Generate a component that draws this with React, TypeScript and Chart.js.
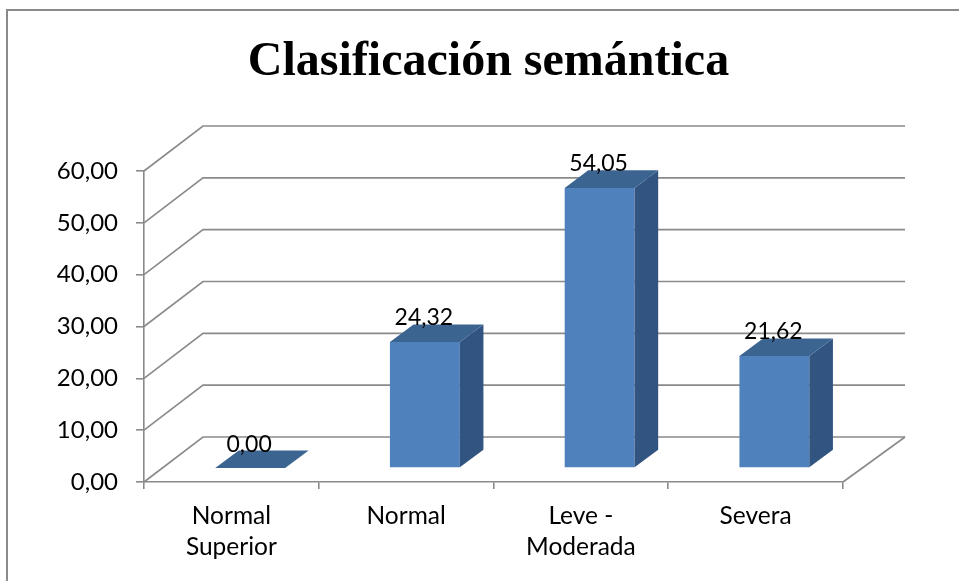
import React, { useEffect, useRef } from 'react';
import { Chart, registerables } from 'chart.js';

Chart.register(...registerables);

// ---------- data ----------
const categories: (string | string[])[] = [['Normal', 'Superior'], 'Normal', ['Leve -', 'Moderada'], 'Severa'];
const values: number[] = [0, 24.32, 54.05, 21.62];
const yMin = 0;
const yMax = 60;
const yStep = 10;
const chartTitle = 'Clasificación semántica';

// ---------- style ----------
const GRID = '#8a8a8a';
const FRONT = '#4F81BD';
const TOP = '#3C6491';
const SIDE = '#325480';
const DX_L = 59;
const DX_R = 62;
const DX = 60.5;
const DY = -45;
const F1 = 0.31; // depth fraction of bar front face
const F2 = 0.70; // depth fraction of bar back face
const LABEL_FONT = '23px Lato';

const fmt = (v: number) => Number(v).toFixed(2).replace('.', ',');

export default function App() {
  const ref = useRef<HTMLCanvasElement>(null);

  useEffect(() => {
    const canvas = ref.current;
    if (!canvas) return;

    const plugin = {
      id: 'excel3d',
      beforeDraw(chart: any) {
        const ctx = chart.ctx;
        ctx.save();
        // frame
        ctx.strokeStyle = GRID;
        ctx.lineWidth = 2;
        ctx.beginPath();
        ctx.moveTo(7, 581);
        ctx.lineTo(7, 10);
        ctx.lineTo(959, 10);
        ctx.stroke();
        // title
        ctx.fillStyle = '#000';
        ctx.font = 'bold 48px "Liberation Serif"';
        ctx.textAlign = 'center';
        ctx.textBaseline = 'alphabetic';
        ctx.fillText(chartTitle, 488.5, 75);
        ctx.restore();
      },
      beforeDatasetsDraw(chart: any) {
        const ctx = chart.ctx;
        const { left, right, bottom } = chart.chartArea;
        const yScale = chart.scales.y;
        ctx.save();
        ctx.strokeStyle = GRID;
        ctx.lineWidth = 1.6;
        ctx.lineCap = 'butt';
        ctx.lineJoin = 'miter';
        yScale.ticks.forEach((t: any) => {
          const yF = yScale.getPixelForValue(t.value);
          ctx.beginPath();
          ctx.moveTo(left, yF);
          ctx.lineTo(left + DX_L, yF + DY);
          ctx.lineTo(right + DX_R, yF + DY);
          ctx.stroke();
        });
        // floor right edge
        ctx.beginPath();
        ctx.moveTo(right, bottom);
        ctx.lineTo(right + DX_R, bottom + DY);
        ctx.stroke();
        ctx.restore();
        // shift bar fronts into depth
        ctx.save();
        ctx.translate(F1 * DX, F1 * DY);
      },
      afterDatasetsDraw(chart: any) {
        const ctx = chart.ctx;
        ctx.restore();
        const meta = chart.getDatasetMeta(0);
        const tx = F1 * DX;
        const ty = F1 * DY;
        const ddx = (F2 - F1) * DX;
        const ddy = (F2 - F1) * DY;
        ctx.save();
        meta.data.forEach((bar: any, i: number) => {
          const p = bar.getProps(['x', 'y', 'base', 'width'], true);
          const xl = p.x - p.width / 2 + tx;
          const xr = p.x + p.width / 2 + tx;
          const yT = p.y + ty;
          const yB = p.base + ty;
          // side face
          if (yB - yT > 0.5) {
            ctx.fillStyle = SIDE;
            ctx.beginPath();
            ctx.moveTo(xr, yT);
            ctx.lineTo(xr + ddx, yT + ddy);
            ctx.lineTo(xr + ddx, yB + ddy);
            ctx.lineTo(xr, yB);
            ctx.closePath();
            ctx.fill();
          }
          // top face
          ctx.fillStyle = TOP;
          ctx.beginPath();
          ctx.moveTo(xl, yT);
          ctx.lineTo(xr, yT);
          ctx.lineTo(xr + ddx, yT + ddy);
          ctx.lineTo(xl + ddx, yT + ddy);
          ctx.closePath();
          ctx.fill();
          // label
          ctx.fillStyle = '#000';
          ctx.font = LABEL_FONT;
          ctx.textAlign = 'center';
          ctx.textBaseline = 'alphabetic';
          ctx.fillText(fmt(values[i]), p.x + tx - 1, yT + ddy + 1);
        });
        ctx.restore();
      },
    };

    const chart = new Chart(canvas, {
      type: 'bar',
      data: {
        labels: categories,
        datasets: [
          {
            data: values,
            backgroundColor: FRONT,
            borderWidth: 0,
            barPercentage: 0.4,
            categoryPercentage: 1,
            clip: false as any,
          },
        ],
      },
      options: {
        responsive: false,
        animation: false,
        devicePixelRatio: 1,
        layout: { padding: { left: 0, top: 171, right: 116, bottom: 0 } },
        plugins: {
          legend: { display: false },
          tooltip: { enabled: false },
          title: { display: false },
        },
        scales: {
          x: {
            grid: { offset: true, drawOnChartArea: false, drawTicks: true, tickLength: 7, color: GRID, lineWidth: 1.6 },
            border: { display: true, color: GRID, width: 1.6 },
            ticks: {
              font: { family: 'Lato', size: 24.5, lineHeight: 1.265 },
              color: '#000',
              padding: 12,
              maxRotation: 0,
              autoSkip: false,
            },
            afterFit: (s: any) => {
              s.height = 99;
            },
          },
          y: {
            min: yMin,
            max: yMax,
            grid: { drawOnChartArea: false, drawTicks: true, tickLength: 8, color: GRID, lineWidth: 1.6 },
            border: { display: true, color: GRID, width: 1.6 },
            ticks: {
              stepSize: yStep,
              callback: (v: any) => fmt(v),
              font: { family: 'Lato', size: 24 },
              color: '#000',
              padding: 18,
            },
            afterFit: (s: any) => {
              s.width = 144;
            },
          },
        },
      },
      plugins: [plugin],
    });

    return () => chart.destroy();
  }, []);

  return (
    <div style={{ position: 'fixed', left: 0, top: 0, width: 959, height: 581, background: '#fff' }}>
      <canvas ref={ref} width={959} height={581} style={{ display: 'block', width: 959, height: 581 }} />
    </div>
  );
}
